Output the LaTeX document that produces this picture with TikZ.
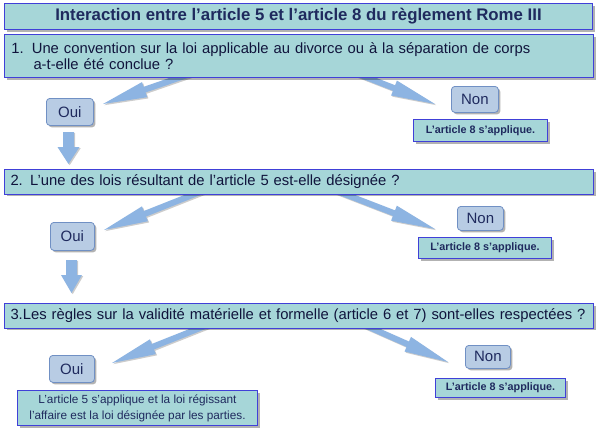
\documentclass[tikz,border=0pt]{standalone}
\usepackage{fontspec}
\setmainfont{Liberation Sans}
\usetikzlibrary{calc,shadows}
\definecolor{boxfill}{HTML}{A6D6D8}
\definecolor{boxline}{HTML}{4040D8}
\definecolor{btnfill}{HTML}{B8CCE4}
\definecolor{btnline}{HTML}{7090C4}
\definecolor{arrfill}{HTML}{8DB4E2}
\definecolor{navy}{HTML}{1F2A5E}
\definecolor{qtext}{HTML}{10143C}
\tikzset{
  shad/.style={drop shadow={shadow xshift=2pt,shadow yshift=-2pt,fill=black,opacity=0.3}},
  qbox/.style={draw=boxline,line width=1pt,fill=boxfill,shad,anchor=north west,
     inner xsep=7pt,inner ysep=0pt,align=left,text=qtext,font=\fontsize{14.8}{16.5}\selectfont},
  titlebox/.style={draw=boxline,line width=1pt,fill=boxfill,shad,anchor=north west,
     inner sep=0pt,text=navy,font=\fontsize{16.8}{19}\selectfont\bfseries},
  btn/.style={draw=btnline,line width=0.8pt,fill=btnfill,rounded corners=3.5pt,shad,anchor=north west,
     inner sep=0pt,text=navy,font=\fontsize{15}{17}\selectfont},
  resbox/.style={draw=boxline,line width=1pt,fill=boxfill,shad,anchor=north west,
     inner sep=0pt,text=navy,align=center,font=\fontsize{10.8}{12}\selectfont\bfseries},
  res5/.style={resbox,font=\fontsize{11.8}{16}\selectfont},
  arr/.style={fill=arrfill,drop shadow={shadow xshift=1.2pt,shadow yshift=-1.2pt,fill=black,opacity=0.2}},
}
% block arrow: #1 prefix, #2 start, #3 tip
\newcommand\blockarrow[3]{%
  \coordinate (#1h) at ($(#3)!44pt!(#2)$);
  \path[arr] ($(#2)!3pt!90:(#3)$) -- ($(#1h)!3pt!90:(#3)$) -- ($(#1h)!8pt!90:(#3)$) -- (#3)
     -- ($(#1h)!8pt!-90:(#3)$) -- ($(#1h)!3pt!-90:(#3)$) -- ($(#2)!3pt!-90:(#3)$) -- cycle;
}
\begin{document}
\begin{tikzpicture}[x=1pt,y=-1pt]
\useasboundingbox (0,0) rectangle (600,434);
\fill[white] (0,0) rectangle (600,434);

% ---- down arrows (shapes)
\coordinate (d1a) at (68.5,132);
\coordinate (d2a) at (71.5,260);
\path[arr] ($(d1a)+(-5.5,0)$) -- ++(0,15) -- ++(-5.5,0) -- ($(d1a)+(0,32)$) -- ($(d1a)+(11,15)$) -- ++(-5.5,0) -- ($(d1a)+(5.5,0)$) -- cycle;
\path[arr] ($(d2a)+(-5.5,0)$) -- ++(0,15) -- ++(-5,0) -- ($(d2a)+(0,33)$) -- ($(d2a)+(10.5,15)$) -- ++(-5,0) -- ($(d2a)+(5.5,0)$) -- cycle;

% ---- start/tip coordinates of diagonal arrows
\coordinate (s1l) at (190,74);
\coordinate (t1l) at (103,104);
\coordinate (s1r) at (358,74);
\coordinate (t1r) at (435,104);
\coordinate (s2l) at (205,190);
\coordinate (t2l) at (104,230);
\coordinate (s2r) at (334,190);
\coordinate (t2r) at (435,229);
\coordinate (s3l) at (210,324);
\coordinate (t3l) at (112,363);
\coordinate (s3r) at (362,324);
\coordinate (t3r) at (448,362);
\blockarrow{a1l}{s1l}{t1l}
\blockarrow{a1r}{s1r}{t1r}
\blockarrow{a2l}{s2l}{t2l}
\blockarrow{a2r}{s2r}{t2r}
\blockarrow{a3l}{s3l}{t3l}
\blockarrow{a3r}{s3r}{t3r}

% ---- title
\node[titlebox,minimum width=588pt,minimum height=26pt] (title) at (4,3)
  {Interaction entre l’article 5 et l’article 8 du règlement Rome III};

% ---- questions
\node[qbox,minimum width=589pt,minimum height=43pt,text width=575pt] (q1) at (4,34)
  {1.\hspace{8pt}Une convention sur la loi applicable au divorce ou à la séparation de corps\\
   \hspace*{22pt}a-t-elle été conclue ?};
\node[qbox,minimum width=589pt,minimum height=24.5pt,text width=577pt,inner xsep=6pt] (q2) at (4,169)
  {2. L’une des lois résultant de l’article 5 est-elle désignée ?};
\node[qbox,minimum width=589pt,minimum height=24.5pt,text width=577pt,inner xsep=6pt] (q3) at (4,303)
  {3.Les règles sur la validité matérielle et formelle (article 6 et 7) sont-elles respectées ?};

% ---- Oui / Non
\node[btn,minimum width=47pt,minimum height=27pt] (oui1) at (46,98) {Oui};
\node[btn,minimum width=47pt,minimum height=26pt] (non1) at (451,86) {Non};
\node[btn,minimum width=44pt,minimum height=28pt] (oui2) at (50,222) {Oui};
\node[btn,minimum width=46pt,minimum height=24pt] (non2) at (457,206) {Non};
\node[btn,minimum width=45pt,minimum height=27pt] (oui3) at (49,355) {Oui};
\node[btn,minimum width=45pt,minimum height=23pt] (non3) at (465,345) {Non};

% ---- results
\node[resbox,minimum width=134pt,minimum height=22pt] (r1) at (413,119) {L’article 8 s’applique.};
\node[resbox,minimum width=133pt,minimum height=21pt] (r2) at (418,237) {L’article 8 s’applique.};
\node[resbox,minimum width=130pt,minimum height=19pt] (r3) at (435,378) {L’article 8 s’applique.};
\node[res5,minimum width=240pt,minimum height=35pt] (r4) at (17,390)
  {L’article 5 s’applique et la loi régissant\\l’affaire est la loi désignée par les parties.};
\end{tikzpicture}
\end{document}
